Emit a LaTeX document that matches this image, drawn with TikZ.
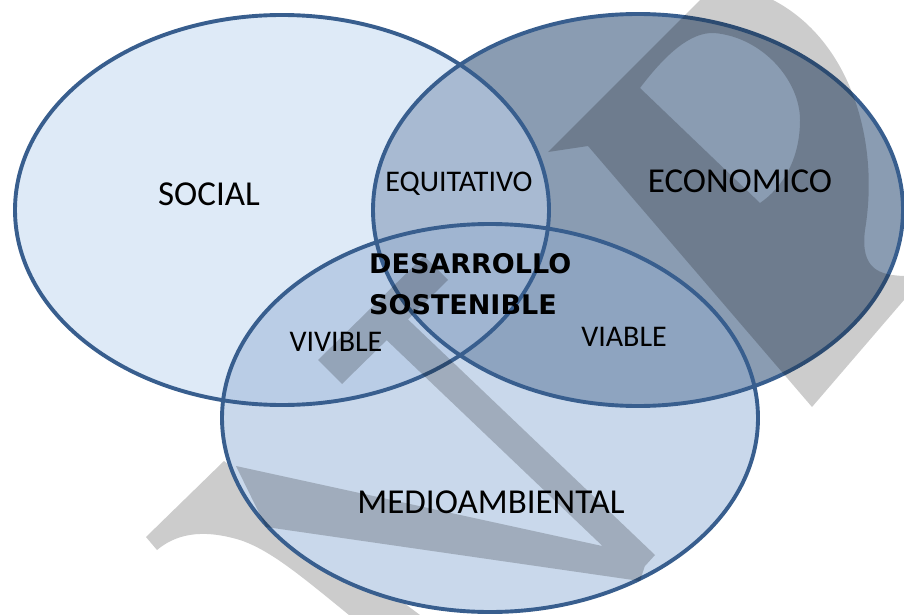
\documentclass[tikz,border=0pt]{standalone}
\usepackage{fontspec}
\setmainfont{Carlito}
\newfontfamily\boldfam{DejaVu Sans}
\definecolor{lineblue}{RGB}{56,94,142}
\definecolor{cS}{RGB}{222,234,247}
\definecolor{cE}{RGB}{138,156,178}
\definecolor{cM}{RGB}{201,216,235}
\definecolor{cSE}{RGB}{168,186,210}
\definecolor{cSM}{RGB}{186,205,230}
\definecolor{cEM}{RGB}{142,164,192}
\definecolor{cSEM}{RGB}{160,181,209}
\definecolor{wgray}{RGB}{204,204,204}
\tikzset{
  outline/.style={draw=lineblue, line width=3.9pt},
  wmark/.style={fill=black, fill opacity=0.2, draw=none},
  lbl/.style={font=\fontsize{35}{40}\selectfont, anchor=base, inner sep=0pt},
  lblsm/.style={font=\fontsize{30}{34}\selectfont, anchor=base, inner sep=0pt},
  core/.style={font=\boldfam\bfseries\fontsize{27}{41}\selectfont, align=left, anchor=north west, inner sep=0pt}
}
\begin{document}
\begin{tikzpicture}[x=1pt, y=-1pt]
\useasboundingbox (0,0) rectangle (904,615);
\fill[white] (0,0) rectangle (904,615);
% watermark part lying outside the lower ellipse
\fill[wgray] (146,537) -- (224,461) -- (320,540) -- (420,615) -- (349,615)
  .. controls (300,575) and (270,550) .. (240,540)
  .. controls (200,528) and (175,535) .. (157,550) -- cycle;
% region fills
\def\elS{(282,210) ellipse [x radius=267, y radius=195]}
\def\elE{(638,210) ellipse [x radius=265, y radius=196]}
\def\elM{(490,418) ellipse [x radius=268, y radius=194]}
\fill[cS] \elS;
\fill[cE] \elE;
\fill[cM] \elM;
\begin{scope}\clip \elS; \fill[cSE] \elE; \fill[cSM] \elM; \end{scope}
\begin{scope}\clip \elE; \fill[cEM] \elM; \end{scope}
\begin{scope}\clip \elS; \clip \elE; \fill[cSEM] \elM; \end{scope}
\draw[outline] \elS;
\draw[outline] \elE;
\draw[outline] \elM;
% watermark on top (multiplies by 0.8)
\fill[wmark] (236,466) -- (648,556) -- (640,581) -- (266,527) -- cycle
  (318,360) -- (424,256) -- (448,280) -- (342,384) -- cycle
  (396,308) -- (655,555) -- (635,577) -- (376,330) -- cycle;
\fill[wmark, even odd rule] (548,152) -- (700,0) -- (773,0)
  .. controls (850,40) and (880,140) .. (865,230)
  .. controls (860,270) and (880,275) .. (904,276) -- (904,300) -- (812,407)
  -- (588,146) -- cycle
  (640,88) .. controls (665,55) and (690,32) .. (714,33)
  .. controls (762,37) and (800,80) .. (800,120)
  .. controls (800,160) and (782,188) .. (760,203) -- cycle;
% labels
\node[lbl] (social) at (209,205) {SOCIAL};
\node[lbl] (econ) at (740,192) {ECONOMICO};
\node[lbl] (medio) at (491,513) {MEDIOAMBIENTAL};
\node[lblsm] (equit) at (459,191) {EQUITATIVO};
\node[lblsm] (vivible) at (336,351) {VIVIBLE};
\node[lblsm] (viable) at (624,346) {VIABLE};
\node[core] (ds) at (369,253) {DESARROLLO\\SOSTENIBLE};
\end{tikzpicture}
\end{document}
